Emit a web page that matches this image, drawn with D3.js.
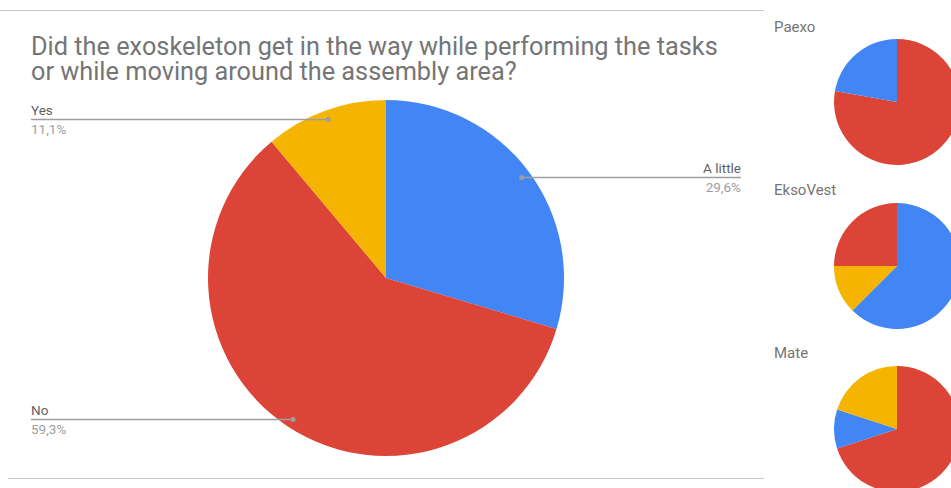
<!DOCTYPE html>
<html>
<head>
<meta charset="utf-8">
<script src="https://cdn.jsdelivr.net/npm/d3@7"></script>
<style>
  html, body { margin: 0; padding: 0; background: #fff; overflow: hidden; }
  svg { display: block; font-family: Roboto, "Noto Sans", sans-serif; }
</style>
</head>
<body>
<svg id="chart" width="951" height="488"></svg>
<script>
// Survey answers across all exoskeletons
const categories = ["A little", "No", "Yes"];
const overallCounts = [8, 16, 3];

// Per-device breakdowns, in the order each device's answers were recorded
const deviceNames = ["Paexo", "EksoVest", "Mate"];
const paexoAnswers = ["No", "A little"];
const paexoCounts = [7, 2];
const eksoVestAnswers = ["A little", "Yes", "No"];
const eksoVestCounts = [5, 1, 2];
const mateAnswers = ["No", "A little", "Yes"];
const mateCounts = [7, 1, 2];

const titleLines = [
  "Did the exoskeleton get in the way while performing the tasks",
  "or while moving around the assembly area?"
];

const color = d3.scaleOrdinal()
  .domain(["A little", "No", "Yes"])
  .range(["#4285f4", "#db4437", "#f4b400"]);

const svg = d3.select("#chart");

// Frame rules
svg.append("line").attr("x1", 0).attr("x2", 764).attr("y1", 10.5).attr("y2", 10.5)
  .attr("stroke", "#c8c8c8").attr("stroke-width", 1);
svg.append("line").attr("x1", 8).attr("x2", 764).attr("y1", 478.5).attr("y2", 478.5)
  .attr("stroke", "#c8c8c8").attr("stroke-width", 1);

// Title, one text per line
svg.append("g").selectAll("text").data(titleLines).join("text")
  .attr("x", 31).attr("y", (d, i) => 55 + i * 24.5)
  .attr("fill", "#757575")
  .style("font-size", "25.3px")
  .text(d => d);

// Main pie
const total = d3.sum(overallCounts);
const mainData = categories.map((c, i) => ({ label: c, value: overallCounts[i] }));
const pie = d3.pie().value(d => d.value).sort(null);
const R = 178;
const cx = 386, cy = 278;
const arc = d3.arc().innerRadius(0).outerRadius(R);
const dotArc = d3.arc().innerRadius(R * 0.95).outerRadius(R * 0.95);

const main = svg.append("g").attr("transform", `translate(${cx},${cy})`);
const arcs = pie(mainData);
main.selectAll("path").data(arcs).join("path")
  .attr("d", arc)
  .attr("fill", d => color(d.data.label));

const fmt = v => (Math.round(v * 1000) / 10).toFixed(1).replace(".", ",") + "%";
const leftX = 31, rightX = 741;

const labels = svg.append("g");
arcs.forEach(a => {
  const [px, py] = dotArc.centroid(a);
  const x = cx + px, y = Math.round(cy + py) + 0.5;
  const left = px < 0;
  const endX = left ? leftX : rightX;
  labels.append("line")
    .attr("x1", endX).attr("x2", x).attr("y1", y).attr("y2", y)
    .attr("stroke", "#9e9e9e").attr("stroke-width", 1.5);
  labels.append("circle").attr("cx", x).attr("cy", y).attr("r", 2.5).attr("fill", "#9e9e9e");
  labels.append("text")
    .attr("x", endX).attr("y", y - 5)
    .attr("text-anchor", left ? "start" : "end")
    .attr("fill", "#616161").style("font-size", "13.5px")
    .text(a.data.label);
  labels.append("text")
    .attr("x", endX).attr("y", y + 14)
    .attr("text-anchor", left ? "start" : "end")
    .attr("fill", "#9e9e9e").style("font-size", "13.5px")
    .text(fmt(a.data.value / total));
});

// Per-device small pies
const devices = [
  { name: deviceNames[0], answers: paexoAnswers, counts: paexoCounts },
  { name: deviceNames[1], answers: eksoVestAnswers, counts: eksoVestCounts },
  { name: deviceNames[2], answers: mateAnswers, counts: mateCounts }
];
const smallR = 63;
const smallCx = 897;
const smallCy = [102, 266, 429];
const labelY = [32, 195, 358];
const smallArc = d3.arc().innerRadius(0).outerRadius(smallR);

devices.forEach((dev, i) => {
  svg.append("text")
    .attr("x", 774).attr("y", labelY[i])
    .attr("fill", "#757575").style("font-size", "15px")
    .text(dev.name);
  const g = svg.append("g").attr("transform", `translate(${smallCx},${smallCy[i]})`);
  const data = dev.answers.map((a, j) => ({ label: a, value: dev.counts[j] }));
  g.selectAll("path").data(pie(data)).join("path")
    .attr("d", smallArc)
    .attr("fill", d => color(d.data.label));
});
</script>
</body>
</html>
